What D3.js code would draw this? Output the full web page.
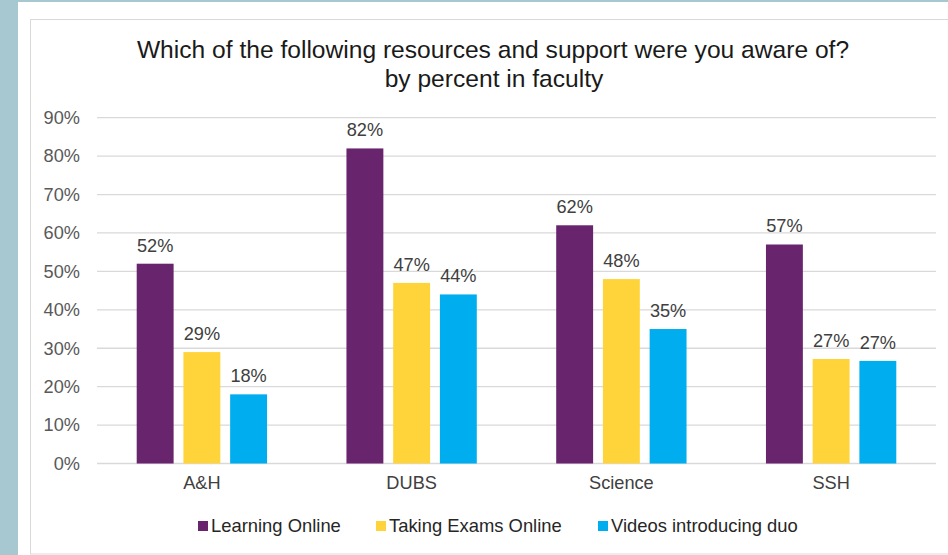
<!DOCTYPE html>
<html>
<head>
<meta charset="utf-8">
<script src="https://cdn.jsdelivr.net/npm/d3@7"></script>
<style>
  html, body { margin: 0; padding: 0; background: #a7c8d1; }
  svg { display: block; font-family: "Liberation Sans", Arial, sans-serif; }
</style>
</head>
<body>
<svg id="chart" width="948" height="555"></svg>
<script>
// chart data
var faculties = ["A&H", "DUBS", "Science", "SSH"];
var seriesNames = ["Learning Online", "Taking Exams Online", "Videos introducing duo"];
var learningOnline = [52, 82, 62, 57];
var takingExams = [29, 47, 48, 27.2];
var videosDuo = [18, 44, 35, 26.7];
var yTicks = [0, 10, 20, 30, 40, 50, 60, 70, 80, 90];
var colors = ["#68246d", "#ffd43b", "#00aeef"];

var svg = d3.select("#chart");

// white slide + chart frame
svg.append("rect").attr("x", 18).attr("y", 2).attr("width", 930).attr("height", 553).attr("fill", "#ffffff");
svg.append("rect").attr("x", 30.5).attr("y", 19.5).attr("width", 930).attr("height", 534.5)
   .attr("fill", "#ffffff").attr("stroke", "#d9d9d9").attr("stroke-width", 1);

// title
var title = svg.append("text").attr("text-anchor", "middle").attr("fill", "#1a1a1a").attr("font-size", 24.6);
title.append("tspan").attr("x", 493).attr("y", 58).text("Which of the following resources and support were you aware of?");
title.append("tspan").attr("x", 494).attr("y", 87).text("by percent in faculty");

// scales
var x = d3.scaleBand().domain(faculties).range([97, 936]).paddingInner(0).paddingOuter(0);
var xs = d3.scaleBand().domain(seriesNames).range([0, x.bandwidth()]).paddingInner(0.21).paddingOuter(0.85);
var y = d3.scaleLinear().domain([0, 90]).range([463.5, 117.7]);

// gridlines
svg.append("g").selectAll("line")
   .data(yTicks)
   .enter()
   .append("line")
   .attr("x1", 97).attr("x2", 936)
   .attr("y1", function(d){ return y(d); })
   .attr("y2", function(d){ return y(d); })
   .attr("stroke", "#d9d9d9")
   .attr("stroke-width", 1.3);

// y axis labels
var yAxis = svg.append("g").attr("transform", "translate(88,0)")
   .call(d3.axisLeft(y).tickValues(yTicks).tickSize(0).tickPadding(8).tickFormat(function(d){ return d + "%"; }));
yAxis.select(".domain").remove();
yAxis.selectAll("text").attr("font-size", 18.2).attr("fill", "#595959").attr("font-family", "Liberation Sans, Arial, sans-serif");

// x axis labels
var xAxis = svg.append("g").attr("transform", "translate(0,463.5)")
   .call(d3.axisBottom(x).tickSize(0).tickPadding(13));
xAxis.select(".domain").remove();
xAxis.selectAll("text").attr("font-size", 18.2).attr("fill", "#404040").attr("font-family", "Liberation Sans, Arial, sans-serif");

// bars
var rows = faculties.map(function(f, i){
  return {key: f, values: [learningOnline[i], takingExams[i], videosDuo[i]]};
});

var groups = svg.append("g").selectAll("g")
   .data(rows)
   .enter()
   .append("g")
   .attr("transform", function(d){ return "translate(" + x(d.key) + ",0)"; });

groups.selectAll("rect")
   .data(function(d){ return d.values.map(function(v, j){ return {name: seriesNames[j], value: v, idx: j}; }); })
   .enter()
   .append("rect")
   .attr("x", function(d){ return xs(d.name); })
   .attr("width", xs.bandwidth())
   .attr("y", function(d){ return y(d.value); })
   .attr("height", function(d){ return y(0) - y(d.value); })
   .attr("fill", function(d){ return colors[d.idx]; });

// value labels
groups.selectAll("text")
   .data(function(d){ return d.values.map(function(v, j){ return {name: seriesNames[j], value: v}; }); })
   .enter()
   .append("text")
   .attr("x", function(d){ return xs(d.name) + xs.bandwidth() / 2; })
   .attr("y", function(d){ return y(d.value) - 12; })
   .attr("text-anchor", "middle")
   .attr("font-size", 18.2)
   .attr("fill", "#404040")
   .text(function(d){ return Math.round(d.value) + "%"; });

// legend
var legendX = [198, 376, 598];
var legend = svg.append("g").selectAll("g")
   .data(seriesNames)
   .enter()
   .append("g")
   .attr("transform", function(d, i){ return "translate(" + legendX[i] + ",521)"; });
legend.append("rect").attr("width", 10).attr("height", 10).attr("fill", function(d, i){ return colors[i]; });
legend.append("text").attr("x", 13).attr("y", 11).attr("font-size", 18.4).attr("fill", "#262626")
   .text(function(d){ return d; });
</script>
</body>
</html>
